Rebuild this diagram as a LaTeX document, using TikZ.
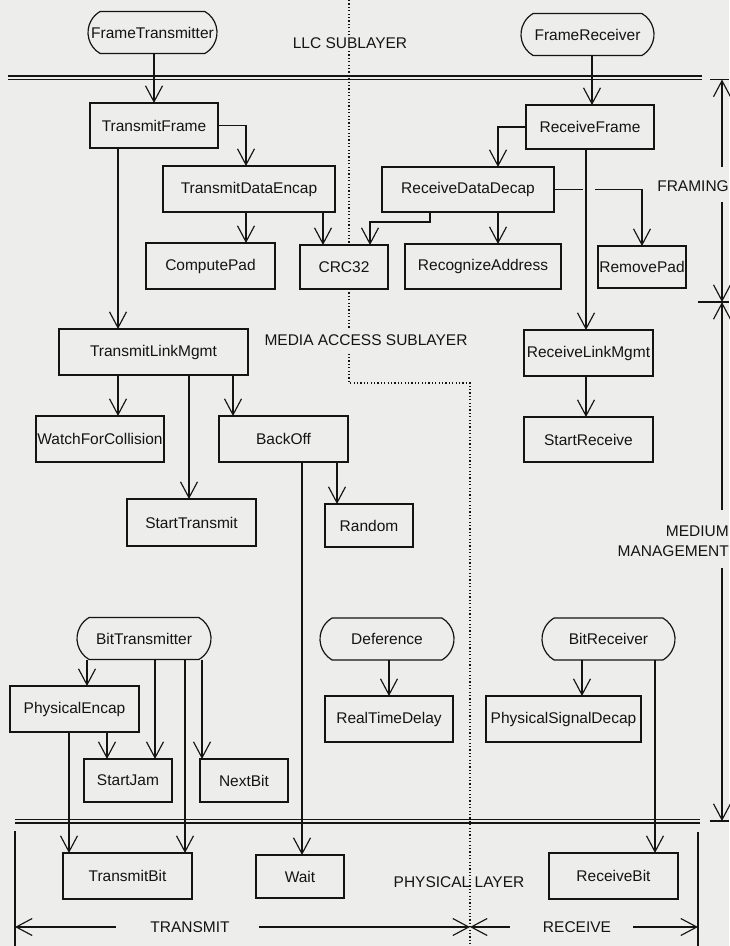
\documentclass[tikz,border=0pt]{standalone}
\usepackage{fontspec}
\setmainfont{Liberation Sans}
\usetikzlibrary{arrows.meta,shapes.misc}
\definecolor{bgc}{RGB}{237,237,235}
\definecolor{ink}{RGB}{20,20,20}
\begin{document}
\begin{tikzpicture}[x=1pt,y=-1pt,
  every node/.style={font=\fontsize{15.5}{18}\selectfont, text=ink},
  box/.style={draw=ink, line width=1.2pt, fill=bgc, rectangle, inner sep=0pt, outer sep=0pt},
  term/.style={draw=ink, line width=1.2pt, fill=bgc, rounded rectangle, rounded rectangle arc length=120, inner sep=0pt, outer sep=0pt, minimum height=42pt},
  conn/.style={draw=ink, line width=1.15pt},
  arr/.style={conn, -{Straight Barb[length=16pt,width=17pt]}},
  lbl/.style={inner sep=2pt},
  dots/.style={draw=ink, line width=1.3pt, dash pattern=on 1.2pt off 2.2pt}
]
\fill[bgc] (0,0) rectangle (729,946);
\useasboundingbox (0,0) rectangle (729,946);

% dotted boundary
\draw[dots] (349,0) -- (349,383) -- (470,383) -- (470,946);

% layer double lines
\draw[conn, line width=1.1pt] (8,76) -- (702,76);
\draw[conn, line width=1.1pt] (8,79.5) -- (702,79.5);
\draw[conn, line width=1.1pt] (15,819.5) -- (700,819.5);
\draw[conn, line width=1.1pt] (15,823) -- (700,823);

% labels
\node[lbl, fill=bgc] (llc) at (350,43) {LLC SUBLAYER};
\node[lbl, fill=bgc, inner ysep=6pt] (mac) at (366,340) {MEDIA ACCESS SUBLAYER};
\node[lbl] (phy) at (459,882) {PHYSICAL LAYER};
\node[lbl] (txl) at (190,927) {TRANSMIT};
\node[lbl] (rxl) at (577,927) {RECEIVE};
\node[lbl, anchor=east, inner sep=0pt] (frm) at (729,186) {FRAMING};
\node[lbl, anchor=east, align=right, inner sep=0pt, font=\fontsize{15.5}{20}\selectfont] (mm) at (729,541) {MEDIUM\\MANAGEMENT};

% terminals
\node[term, minimum width=129pt] (ftx) at (152.5,32.5) {\makebox[80pt]{FrameTransmitter}};
\node[term, minimum width=133pt] (frx) at (587.5,34.5) {\makebox[80pt]{FrameReceiver}};
\node[term, minimum width=134pt] (btx) at (144,638.5) {\makebox[80pt]{BitTransmitter}};
\node[term, minimum width=134pt] (dfr) at (387,639) {\makebox[80pt]{Deference}};
\node[term, minimum width=133pt] (brx) at (608.5,639) {\makebox[80pt]{BitReceiver}};

% boxes
\node[box, minimum width=128pt, minimum height=45pt] (tf) at (154,125.5) {TransmitFrame};
\node[box, minimum width=172pt, minimum height=46pt] (tde) at (249,189) {TransmitDataEncap};
\node[box, minimum width=129pt, minimum height=46pt] (cp) at (210.5,266) {ComputePad};
\node[box, minimum width=88pt, minimum height=44pt] (crc) at (344,267) {CRC32};
\node[box, minimum width=128pt, minimum height=44pt] (rf) at (590,127) {ReceiveFrame};
\node[box, minimum width=172pt, minimum height=45pt] (rdd) at (468,189.5) {ReceiveDataDecap};
\node[box, minimum width=156pt, minimum height=45pt] (ra) at (483,266.5) {RecognizeAddress};
\node[box, minimum width=88pt, minimum height=42pt] (rp) at (642,267) {\makebox[80pt]{RemovePad}};
\node[box, minimum width=189pt, minimum height=46pt] (tlm) at (153.5,352) {TransmitLinkMgmt};
\node[box, minimum width=128pt, minimum height=46pt] (wfc) at (100,439) {\makebox[100pt]{WatchForCollision}};
\node[box, minimum width=129pt, minimum height=46pt] (bo) at (283.5,439) {BackOff};
\node[box, minimum width=129pt, minimum height=47pt] (st) at (191.5,522.5) {StartTransmit};
\node[box, minimum width=88pt, minimum height=43pt] (rnd) at (369,525.5) {Random};
\node[box, minimum width=129pt, minimum height=46pt] (rlm) at (588.5,353) {\makebox[100pt]{ReceiveLinkMgmt}};
\node[box, minimum width=129pt, minimum height=45pt] (sr) at (588.5,439.5) {StartReceive};
\node[box, minimum width=129pt, minimum height=46pt] (pe) at (74.5,709) {PhysicalEncap};
\node[box, minimum width=88pt, minimum height=43pt] (sj) at (128,780.5) {StartJam};
\node[box, minimum width=88pt, minimum height=43pt] (nb) at (244,780.5) {NextBit};
\node[box, minimum width=129pt, minimum height=46pt] (tb) at (127.5,876) {TransmitBit};
\node[box, minimum width=88pt, minimum height=43pt] (wt) at (300,876.5) {Wait};
\node[box, minimum width=128pt, minimum height=46pt] (rtd) at (389,719) {RealTimeDelay};
\node[box, minimum width=155pt, minimum height=46pt] (psd) at (563.5,719) {\makebox[140pt]{PhysicalSignalDecap}};
\node[box, minimum width=129pt, minimum height=46pt] (rb) at (613.5,876) {ReceiveBit};

% connectors: framing
\draw[arr] ([xshift=1.5pt]ftx.south) -- (tf.north);
\draw[arr] (tf.east) -| ([xshift=-3pt]tde.north);
\draw[arr] ([xshift=-36pt]tf.south) -- ([xshift=-35.5pt]tlm.north);
\draw[arr] ([xshift=-3pt]tde.south) -- ([xshift=35.5pt]cp.north);
\draw[arr] ([xshift=74pt]tde.south) -- ([xshift=-21pt]crc.north);
\draw[arr] ([xshift=4.5pt]frx.south) -- ([xshift=2pt]rf.north);
\draw[arr] (rf.west) -| ([xshift=30pt]rdd.north);
\draw[arr] ([xshift=-4pt]rf.south) -- ([xshift=-2.5pt]rlm.north);
\draw[arr] ([xshift=-38pt]rdd.south) -- ++(0,10) -| ([xshift=26pt]crc.north);
\draw[arr] ([xshift=30pt]rdd.south) -- ([xshift=15pt]ra.north);
\draw[arr] (rdd.east) -- ++(29,0) ++(12,0) -| (rp.north);

% connectors: media access
\draw[arr] ([xshift=-2.5pt]rlm.south) -- ([xshift=-2.5pt]sr.north);
\draw[arr] ([xshift=-35.5pt]tlm.south) -- ([xshift=18pt]wfc.north);
\draw[arr] ([xshift=35.5pt]tlm.south) -- ([xshift=-2.5pt]st.north);
\draw[arr] ([xshift=79.5pt]tlm.south) -- ([xshift=-50.5pt]bo.north);
\draw[arr] ([xshift=53.5pt]bo.south) -- ([xshift=-32pt]rnd.north);
\draw[arr] ([xshift=18.5pt]bo.south) -- ([xshift=2pt]wt.north);

% connectors: bit level
\draw[arr] ([xshift=-57pt]btx.south) -- ([xshift=12.5pt]pe.north);
\draw[arr] ([xshift=11pt]btx.south) -- ([xshift=27pt]sj.north);
\draw[arr] ([xshift=41pt]btx.south) -- ([xshift=57.5pt]tb.north);
\draw[arr] ([xshift=58pt]btx.south) -- ([xshift=-42pt]nb.north);
\draw[arr] ([xshift=32.5pt]pe.south) -- ([xshift=-21pt]sj.north);
\draw[arr] ([xshift=-5.5pt]pe.south) -- ([xshift=-58.5pt]tb.north);
\draw[arr] ([xshift=2pt]dfr.south) -- (rtd.north);
\draw[arr] ([xshift=-26.5pt]brx.south) -- ([xshift=18.5pt]psd.north);
\draw[arr] ([xshift=46.5pt]brx.south) -- ([xshift=41.5pt]rb.north);

% right-hand dimension lines
\coordinate (dTop) at (722,79.5);
\coordinate (dMid) at (722,302);
\coordinate (dBot) at (722,821);
\draw[conn] (710,79.5) -- (729,79.5);
\draw[conn] (698,302) -- (729,302);
\draw[conn] (710,821) -- (729,821);
\draw[arr] (722,167) -- (dTop);
\draw[arr] (722,202) -- (dMid);
\draw[arr] (722,510) -- (dMid);
\draw[arr] (722,568) -- (dBot);

% bottom dimension lines
\coordinate (bL) at (15,927);
\coordinate (bM) at (470,927);
\coordinate (bR) at (698,927);
\draw[conn] (15,831) -- (15,946);
\draw[conn] (698,832) -- (698,946);
\draw[arr] (txl.west) ++(-32,0) -- (bL);
\draw[arr] (txl.east) ++(27,0) -- (bM);
\draw[arr] (rxl.west) ++(-31,0) -- (bM);
\draw[arr] (rxl.east) ++(20,0) -- (bR);
\end{tikzpicture}
\end{document}
